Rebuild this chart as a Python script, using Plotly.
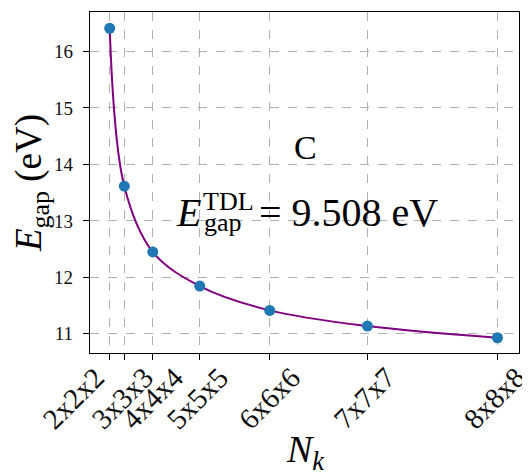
import plotly.graph_objects as go

kpoint_labels = ["2x2x2", "3x3x3", "4x4x4", "5x5x5", "6x6x6", "7x7x7", "8x8x8"]
n_kpoints = [8, 27, 64, 125, 216, 343, 512]
gap_ev = [16.41, 13.615, 12.45, 11.846, 11.415, 11.137, 10.93]
ytick_vals = [11, 12, 13, 14, 15, 16]
material = "C"
gap_tdl = 9.508

font_family = "Liberation Serif, DejaVu Serif, serif"

# page geometry (the html body has an 8px margin, so the figure is shrunk by that much)
OFF = 8
W, H = 530 - OFF, 475 - OFF
L, T, R, B = 90 - OFF, 12 - OFF, 11, 122
pw, ph = W - L - R, H - T - B
plot_left, plot_bottom = 90, 353


def px(xp):
    return (xp - plot_left) / pw


def py(yp):
    return (plot_bottom - yp) / ph


fig = go.Figure()
fig.add_trace(go.Scatter(
    x=n_kpoints, y=gap_ev, mode="lines",
    line=dict(color="#800080", width=2, shape="spline", smoothing=1.0),
    showlegend=False, hoverinfo="skip",
))
fig.add_trace(go.Scatter(
    x=n_kpoints, y=gap_ev, mode="markers",
    marker=dict(color="#1f77b4", size=11),
    showlegend=False,
))

axis_common = dict(
    showline=True, linecolor="black", linewidth=1.2, mirror=True,
    ticks="outside", ticklen=6, tickwidth=1.2, tickcolor="black",
    showgrid=True, gridcolor="#b0b0b0", griddash="dash", gridwidth=1,
    zeroline=False, automargin=False,
)

fig.update_xaxes(
    **axis_common,
    range=[-17.6, 540],
    tickmode="array", tickvals=n_kpoints, showticklabels=False,
)
fig.update_yaxes(
    **axis_common,
    range=[10.66, 16.70],
    tickmode="array", tickvals=ytick_vals,
    ticklabelstandoff=6,
    tickfont=dict(family=font_family, size=19, color="#111"),
    title=dict(text="<i>E</i><sub>gap</sub> (eV)", font=dict(family=font_family, size=37, color="black"), standoff=6),
)

# rotated x tick labels, centred under each tick (as in the reference)
label_shift = [-36, -2, 0, -2, 0, -3, -3]
for xv, lab, sh in zip(n_kpoints, kpoint_labels, label_shift):
    fig.add_annotation(xref="x", yref="paper", x=xv, y=py(398), text=lab,
                       showarrow=False, textangle=-45, xanchor="center", yanchor="middle",
                       xshift=sh, font=dict(family=font_family, size=29, color="#111"))

ann_font = dict(family=font_family, color="black")
# x-axis title
fig.add_annotation(xref="paper", yref="paper", x=px(305), y=py(452),
                   text="<i>N<sub>k</sub></i>", showarrow=False,
                   xanchor="center", yanchor="middle", font=dict(size=38, **ann_font))

fig.add_annotation(xref="paper", yref="paper", x=px(305), y=py(147), text=material,
                   showarrow=False, xanchor="center", yanchor="middle",
                   font=dict(size=34, **ann_font))
fig.add_annotation(xref="paper", yref="paper", x=px(175), y=py(213), text="<i>E</i>",
                   showarrow=False, xanchor="left", yanchor="middle", borderpad=0,
                   font=dict(size=40, **ann_font))
fig.add_annotation(xref="paper", yref="paper", x=px(202), y=py(202), text="TDL",
                   showarrow=False, xanchor="left", yanchor="middle", borderpad=0,
                   font=dict(size=26, **ann_font))
fig.add_annotation(xref="paper", yref="paper", x=px(203), y=py(222), text="gap",
                   showarrow=False, xanchor="left", yanchor="middle", borderpad=0,
                   font=dict(size=26, **ann_font))
fig.add_annotation(xref="paper", yref="paper", x=px(258), y=py(213),
                   text="= %.3f eV" % gap_tdl,
                   showarrow=False, xanchor="left", yanchor="middle", borderpad=0,
                   font=dict(size=40, **ann_font))

fig.update_layout(
    width=W, height=H,
    margin=dict(l=L, r=R, t=T, b=B),
    plot_bgcolor="white", paper_bgcolor="white",
)

fig.write_html("out.html")
